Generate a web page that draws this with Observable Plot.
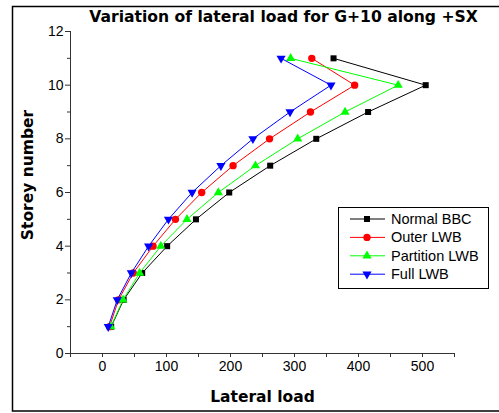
<!DOCTYPE html>
<html>
<head>
<meta charset="utf-8">
<script src="https://cdn.jsdelivr.net/npm/d3@7"></script>
<script src="https://cdn.jsdelivr.net/npm/@observablehq/plot@0.6"></script>
<style>
  html, body { margin: 0; padding: 0; background: #fff; }
  #chart { position: relative; width: 499px; height: 413px; overflow: hidden; }
</style>
</head>
<body>
<div id="chart"></div>
<script>
const chartTitle = "Variation of lateral load for G+10 along +SX";
const xLabel = "Lateral load";
const yLabel = "Storey number";
const storeys = [1, 2, 3, 4, 5, 6, 7, 8, 9, 10, 11];
const seriesNames = ["Normal BBC", "Outer LWB", "Partition LWB", "Full LWB"];
const normalBBC = [13.5, 33, 62, 101, 146, 198, 262, 334, 415, 505, 361];
const outerLWB = [11, 25, 48, 79, 114, 155, 204, 261, 325, 394, 327];
const partitionLWB = [13, 32, 58, 91, 132, 181, 239, 305, 379, 462, 294];
const fullLWB = [9, 23, 45, 72, 103, 140, 185, 235, 293, 357, 279];
const xTicks = [0, 100, 200, 300, 400, 500];
const xMinorTicks = [-50, 50, 150, 250, 350, 450, 550];
const yTicks = [0, 2, 4, 6, 8, 10, 12];
const yMinorTicks = [1, 3, 5, 7, 9, 11];

const seriesValues = [normalBBC, outerLWB, partitionLWB, fullLWB];
const styles = [
  {color: "#000000", symbol: "square", r: 3.4, rotate: 0},
  {color: "#ff0000", symbol: "circle", r: 3.7, rotate: 0},
  {color: "#00ff00", symbol: "triangle", r: 3.4, rotate: 0},
  {color: "#0000ff", symbol: "triangle", r: 3.4, rotate: 180}
];

const marks = [];
seriesNames.forEach((name, k) => {
  const rows = seriesValues[k].map((v, i) => ({series: name, load: v, storey: storeys[i]}));
  const st = styles[k];
  marks.push(Plot.line(rows, {x: "load", y: "storey", stroke: st.color, strokeWidth: 1}));
  marks.push(Plot.dot(rows, {x: "load", y: "storey", symbol: () => st.symbol, fill: st.color, stroke: "none", r: st.r, rotate: st.rotate}));
});

const fontTick = "Liberation Sans, Arial, sans-serif";
const fontBold = "DejaVu Sans, Verdana, sans-serif";

const plot = Plot.plot({
  width: 499,
  height: 413,
  marginTop: 31,
  marginBottom: 60,
  marginLeft: 70,
  marginRight: 45,
  style: {fontFamily: fontTick, fontSize: "14px", color: "#000", background: "#fff", overflow: "visible"},
  x: {domain: [-50, 550]},
  y: {domain: [0, 12]},
  marks: [
    Plot.ruleY([0], {stroke: "#333"}),
    Plot.ruleX([-50], {stroke: "#333"}),
    Plot.axisX({ticks: xTicks, tickSize: 4, tickPadding: 4, label: null, stroke: "#333", fontSize: 14, fontFamily: fontTick}),
    Plot.axisX({ticks: xMinorTicks, tickSize: 4, tickFormat: () => "", label: null, stroke: "#333"}),
    Plot.axisY({ticks: yTicks, tickSize: 5, tickPadding: 2, label: null, stroke: "#333", fontSize: 14, fontFamily: fontTick}),
    Plot.axisY({ticks: yMinorTicks, tickSize: 3, tickFormat: () => "", label: null, stroke: "#333"}),
    ...marks,
    Plot.text([chartTitle], {text: d => d, frameAnchor: "top", dx: 21, dy: -10, lineAnchor: "bottom",
      fontFamily: fontBold, fontWeight: "bold", fontSize: 15.6, fill: "#000"}),
    Plot.text([xLabel], {text: d => d, frameAnchor: "bottom", dy: 44, lineAnchor: "middle",
      fontFamily: fontBold, fontWeight: "bold", fontSize: 15.5, fill: "#000"})
  ]
});

document.getElementById("chart").appendChild(plot);

const svg = d3.select(plot);
svg.append("text")
  .attr("transform", "translate(28,175) rotate(-90)")
  .attr("text-anchor", "middle").attr("dy", "0.35em")
  .attr("font-family", fontBold).attr("font-weight", "bold").attr("font-size", 15.5)
  .attr("fill", "#000").text(yLabel);

svg.append("rect")
  .attr("x", 12.5).attr("y", 6.5).attr("width", 520).attr("height", 404.5)
  .attr("fill", "none").attr("stroke", "#000").attr("stroke-width", 1.5);

const legend = svg.append("g").attr("text-anchor", "start");
legend.append("rect")
  .attr("x", 338.5).attr("y", 207.5).attr("width", 150).attr("height", 81)
  .attr("fill", "#fff").attr("stroke", "#000").attr("stroke-width", 1);
const symbolTypes = {square: d3.symbolSquare, circle: d3.symbolCircle, triangle: d3.symbolTriangle};
seriesNames.forEach((name, k) => {
  const st = styles[k];
  const y = 219 + k * 18.4;
  legend.append("line").attr("x1", 350).attr("x2", 385).attr("y1", y).attr("y2", y)
    .attr("stroke", st.color).attr("stroke-width", 1);
  legend.append("path")
    .attr("d", d3.symbol(symbolTypes[st.symbol], Math.PI * st.r * st.r)())
    .attr("transform", `translate(367,${y}) rotate(${st.rotate})`)
    .attr("fill", st.color);
  legend.append("text").attr("x", 391).attr("y", y).attr("dy", "0.35em")
    .attr("text-anchor", "start")
    .attr("font-family", fontTick).attr("font-size", 14.5).attr("fill", "#000").text(name);
});
</script>
</body>
</html>
